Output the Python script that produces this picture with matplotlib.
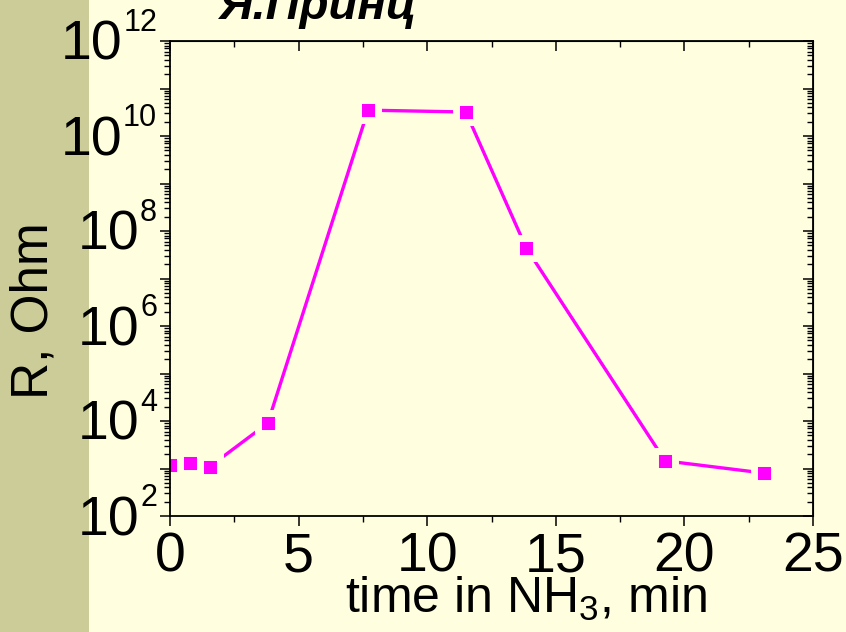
import matplotlib
matplotlib.use('Agg')
import matplotlib.pyplot as plt
import matplotlib.ticker as mticker
from matplotlib.patches import Rectangle
from matplotlib.transforms import blended_transform_factory, offset_copy

# data
time_min = [0.05, 0.78, 1.55, 3.8, 7.7, 11.5, 13.85, 19.25, 23.1]
r_ohm = [1.2e3, 1.3e3, 1.1e3, 9e3, 3.5e10, 3.2e10, 4.4e7, 1.45e3, 8e2]
ylabel_exps = [2, 4, 6, 8, 10, 12]

bg = '#FFFFE0'
strip = '#CCCC99'
magenta = '#FF00FF'

fonts = ['Liberation Sans', 'DejaVu Sans']
plt.rcParams['font.family'] = fonts
plt.rcParams['mathtext.fontset'] = 'custom'
plt.rcParams['mathtext.rm'] = fonts[0]
plt.rcParams['mathtext.it'] = fonts[0]
plt.rcParams['mathtext.bf'] = fonts[0]

fig = plt.figure(figsize=(8.46, 6.32), dpi=100, facecolor=bg)
fig.patches.append(Rectangle((0, 0), 89 / 846, 1, transform=fig.transFigure,
                             facecolor=strip, edgecolor='none', zorder=-1))

ax = fig.add_axes([170 / 846, 116 / 632, 643 / 846, 475 / 632])
ax.set_facecolor('none')

ax.plot(time_min, r_ohm, color=magenta, lw=2.4, marker='s', ms=14.5,
        markerfacecolor=magenta, markeredgecolor=bg, mew=5)

ax.set_yscale('log')
ax.set_xlim(0, 25)
ax.set_ylim(1e2, 1e12)

ax.xaxis.set_major_locator(mticker.MultipleLocator(5))
ax.xaxis.set_minor_locator(mticker.MultipleLocator(2.5))
ax.yaxis.set_major_locator(mticker.LogLocator(base=10, subs=(1.0,), numticks=20))
ax.yaxis.set_minor_locator(mticker.LogLocator(base=10, subs=range(2, 10), numticks=20))
ax.yaxis.set_major_formatter(mticker.NullFormatter())
ax.yaxis.set_minor_formatter(mticker.NullFormatter())

for s in ax.spines.values():
    s.set_linewidth(1.3)
ax.tick_params(which='major', direction='out', length=7, width=1.1, labelsize=40)
ax.tick_params(which='minor', direction='out', length=4, width=1.0)
ax.tick_params(axis='x', which='major', pad=4)

# y tick labels: "10" with a small raised exponent
trans = blended_transform_factory(ax.transAxes, ax.transData)
for e in ylabel_exps:
    sup = str(e)
    wsup = 17 * len(sup)
    ax.text(0, 10.0 ** e, sup, fontsize=22, ha='right', va='baseline', clip_on=False,
            transform=offset_copy(trans, fig=fig, x=-13, y=10, units='dots'))
    ax.text(0, 10.0 ** e, '10', fontsize=40, ha='right', va='baseline', clip_on=False,
            transform=offset_copy(trans, fig=fig, x=-14 - wsup, y=-19, units='dots'))

# mirrored axes, ticks pointing in
top = ax.secondary_xaxis('top')
top.xaxis.set_major_locator(mticker.MultipleLocator(5))
top.xaxis.set_minor_locator(mticker.MultipleLocator(2.5))
top.tick_params(which='major', direction='in', length=7, width=1.1, labeltop=False)
top.tick_params(which='minor', direction='in', length=4, width=1.0)

right = ax.secondary_yaxis('right')
right.yaxis.set_major_locator(mticker.LogLocator(base=10, subs=(1.0,), numticks=20))
right.yaxis.set_minor_locator(mticker.LogLocator(base=10, subs=range(2, 10), numticks=20))
right.tick_params(which='major', direction='in', length=7, width=1.1, labelright=False)
right.tick_params(which='minor', direction='in', length=4, width=1.0)
right.yaxis.set_minor_formatter(mticker.NullFormatter())

fig.text(34 / 846, 1 - 311 / 632, 'R, Ohm', rotation=90, ha='center', va='center',
         fontsize=37)
fig.text(526 / 846, 1 - 613 / 632, r'time in NH$_3$, min', ha='center',
         va='baseline', fontsize=36)
fig.text(317 / 846, 1 - 19 / 632, 'Я.Принц', ha='center', va='baseline',
         fontsize=34, fontweight='bold', fontstyle='italic')

fig.savefig('out.png', dpi=100, facecolor=bg)
